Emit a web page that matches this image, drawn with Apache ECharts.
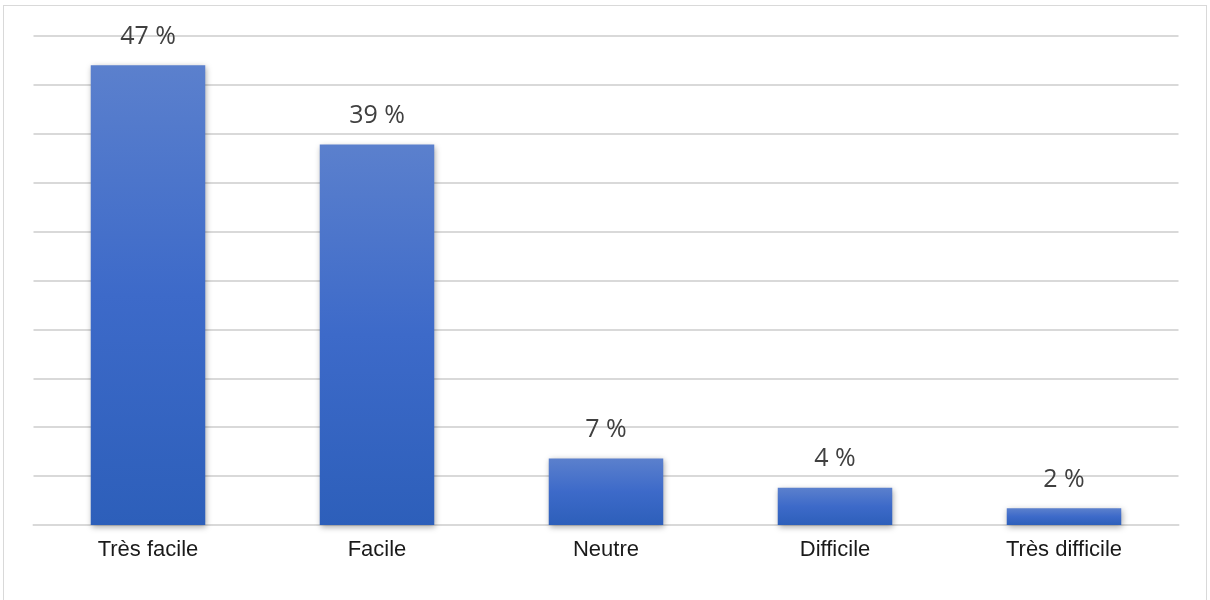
<!DOCTYPE html>
<html>
<head>
<meta charset="utf-8">
<script src="https://cdn.jsdelivr.net/npm/echarts@6/dist/echarts.min.js"></script>
<style>
html,body{margin:0;padding:0;background:#fff;}
#frame{position:absolute;left:3px;top:5px;width:1204px;height:600px;border:1px solid #d9d9d9;box-sizing:border-box;}
#chart{position:absolute;left:0;top:0;width:1210px;height:600px;}
</style>
</head>
<body>
<div id="frame"></div>
<div id="chart"></div>
<script>
const categories = ['Très facile', 'Facile', 'Neutre', 'Difficile', 'Très difficile'];
const values = [47, 38.9, 6.8, 3.8, 1.7];

const chart = echarts.init(document.getElementById('chart'), null, {renderer: 'canvas'});
chart.setOption({
  animation: false,
  backgroundColor: 'transparent',
  grid: {left: 33.5, right: 31.5, top: 36, bottom: 75, containLabel: false},
  xAxis: {
    type: 'category',
    data: categories,
    axisLine: {show: true, lineStyle: {color: '#d9d9d9', width: 2}},
    axisTick: {show: false},
    axisLabel: {color: '#1a1a1a', fontSize: 22, fontFamily: 'Liberation Sans, Arial, sans-serif', margin: 14}
  },
  yAxis: {
    type: 'value',
    min: 0, max: 50, interval: 5,
    axisLabel: {show: false},
    axisLine: {show: false},
    axisTick: {show: false},
    splitLine: {lineStyle: {color: '#d9d9d9', width: 2}}
  },
  series: [{
    type: 'bar',
    data: values,
    barWidth: '50%',
    itemStyle: {
      color: new echarts.graphic.LinearGradient(0, 0, 0, 1, [
        {offset: 0, color: '#5b80cd'},
        {offset: 0.5, color: '#3d6ac9'},
        {offset: 1, color: '#2d5fba'}
      ]),
      shadowColor: 'rgba(0,0,0,0.35)',
      shadowBlur: 6,
      shadowOffsetX: 1,
      shadowOffsetY: 2
    },
    label: {
      show: true,
      position: 'top',
      distance: 16,
      color: '#404040',
      fontSize: 25,
      fontFamily: 'Open Sans, Noto Sans, sans-serif',
      formatter: p => Math.round(p.value) + ' %'
    }
  }]
});
</script>
</body>
</html>
